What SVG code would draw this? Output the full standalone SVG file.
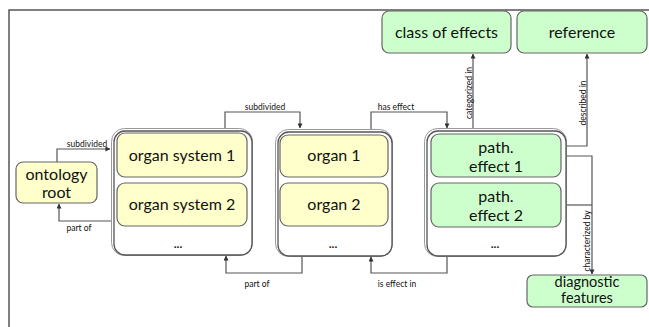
<svg xmlns="http://www.w3.org/2000/svg" width="649" height="327" viewBox="0 0 649 327">
<defs>
<marker id="arr" viewBox="0 0 6 6" refX="5.5" refY="3" markerWidth="5" markerHeight="5" orient="auto" markerUnits="userSpaceOnUse">
<path d="M0,0 L6,3 L0,6 z" fill="#333"/>
</marker>
<style>
.frame{fill:none;stroke:#555;stroke-width:1.5}
.outer{fill:#fff;stroke:#555;stroke-width:1.3}
.outer2{fill:none;stroke:#999;stroke-width:1}
.y{fill:#ffffcc;stroke:#666;stroke-width:1.2}
.g{fill:#ccffcc;stroke:#666;stroke-width:1.2}
.t{font-family:Lato,"Liberation Sans",sans-serif;font-size:16px;fill:#111;text-anchor:middle}
.s{font-size:14.5px}
.dots{font-family:Lato,"Liberation Sans",sans-serif;font-size:12px;font-weight:bold;fill:#222;text-anchor:middle}
.c{fill:none;stroke:#555;stroke-width:1.2}
.l{font-family:Lato,"Liberation Sans",sans-serif;font-size:8.5px;fill:#111;text-anchor:middle}
</style>
</defs>
<path class="frame" d="M9,327 V10 H649"/>
<g id="connectors">
<path class="c" d="M57,162 V149 H110" marker-end="url(#arr)"/>
<text class="l" x="87" y="147">subdivided</text>
<path class="c" d="M112,221 H59 V204" marker-end="url(#arr)"/>
<text class="l" x="79" y="231">part of</text>
<path class="c" d="M225,129 V112 H300 V128" marker-end="url(#arr)"/>
<text class="l" x="265" y="110">subdivided</text>
<path class="c" d="M302,256 V273 H226 V256" marker-end="url(#arr)"/>
<text class="l" x="257" y="287">part of</text>
<path class="c" d="M371,130 V112 H447 V128" marker-end="url(#arr)"/>
<text class="l" x="396" y="110">has effect</text>
<path class="c" d="M447,256 V273 H371 V257" marker-end="url(#arr)"/>
<text class="l" x="397" y="287">is effect in</text>
<path class="c" d="M473,129 V54" marker-end="url(#arr)"/>
<text class="l" transform="translate(471.5,93) rotate(-90)">categorized in</text>
<path class="c" d="M566,146 H587 V54" marker-end="url(#arr)"/>
<text class="l" transform="translate(585.5,103) rotate(-90)">described in</text>
<path class="c" d="M566,156 H592 V274" marker-end="url(#arr)"/>
<path class="c" d="M566,205 H592"/>
<text class="l" transform="translate(590,241) rotate(-90)">characterized by</text>
</g>
<g id="ontology-root">
<rect class="y" x="16" y="162" width="81" height="41" rx="7"/>
<text class="t" x="56.5" y="180">ontology</text>
<text class="t" x="56.5" y="198">root</text>
</g>
<g id="organ-systems">
<rect class="outer2" x="111.5" y="128.5" width="141" height="127" rx="13"/>
<rect class="outer" x="114" y="131" width="138" height="124" rx="11"/>
<g id="organ-system-1">
<rect class="y" x="117" y="133" width="130" height="44" rx="8"/>
<text class="t" x="182" y="160.5">organ system 1</text>
</g>
<g id="organ-system-2">
<rect class="y" x="117" y="183" width="130" height="43" rx="8"/>
<text class="t" x="182" y="210">organ system 2</text>
</g>
<text class="dots" x="178" y="248">...</text>
</g>
<g id="organs">
<rect class="outer2" x="275.5" y="129.5" width="117" height="127" rx="13"/>
<rect class="outer" x="278" y="132" width="114" height="124" rx="11"/>
<g id="organ-1">
<rect class="y" x="280" y="135" width="108" height="42" rx="8"/>
<text class="t" x="334" y="161">organ 1</text>
</g>
<g id="organ-2">
<rect class="y" x="280" y="183" width="108" height="43" rx="8"/>
<text class="t" x="334" y="210">organ 2</text>
</g>
<text class="dots" x="333" y="248">...</text>
</g>
<g id="path-effects">
<rect class="outer2" x="424.5" y="128.5" width="142" height="128" rx="13"/>
<rect class="outer" x="427" y="131" width="139" height="125" rx="11"/>
<g id="path-effect-1">
<rect class="g" x="431" y="134" width="130" height="43" rx="8"/>
<text class="t" x="496" y="153">path.</text>
<text class="t" x="496" y="172">effect 1</text>
</g>
<g id="path-effect-2">
<rect class="g" x="431" y="183" width="130" height="44" rx="8"/>
<text class="t" x="496" y="202">path.</text>
<text class="t" x="496" y="221">effect 2</text>
</g>
<text class="dots" x="495" y="248">...</text>
</g>
<g id="class-of-effects">
<rect class="g" x="382" y="11" width="129" height="42" rx="7"/>
<text class="t" x="446.5" y="37.5">class of effects</text>
</g>
<g id="reference">
<rect class="g" x="517" y="11" width="130" height="42" rx="7"/>
<text class="t" x="582" y="37.5">reference</text>
</g>
<g id="diagnostic-features">
<rect class="g" x="527" y="275" width="120" height="32" rx="6"/>
<text class="t s" x="587" y="286.5">diagnostic</text>
<text class="t s" x="587" y="303">features</text>
</g>
</svg>
